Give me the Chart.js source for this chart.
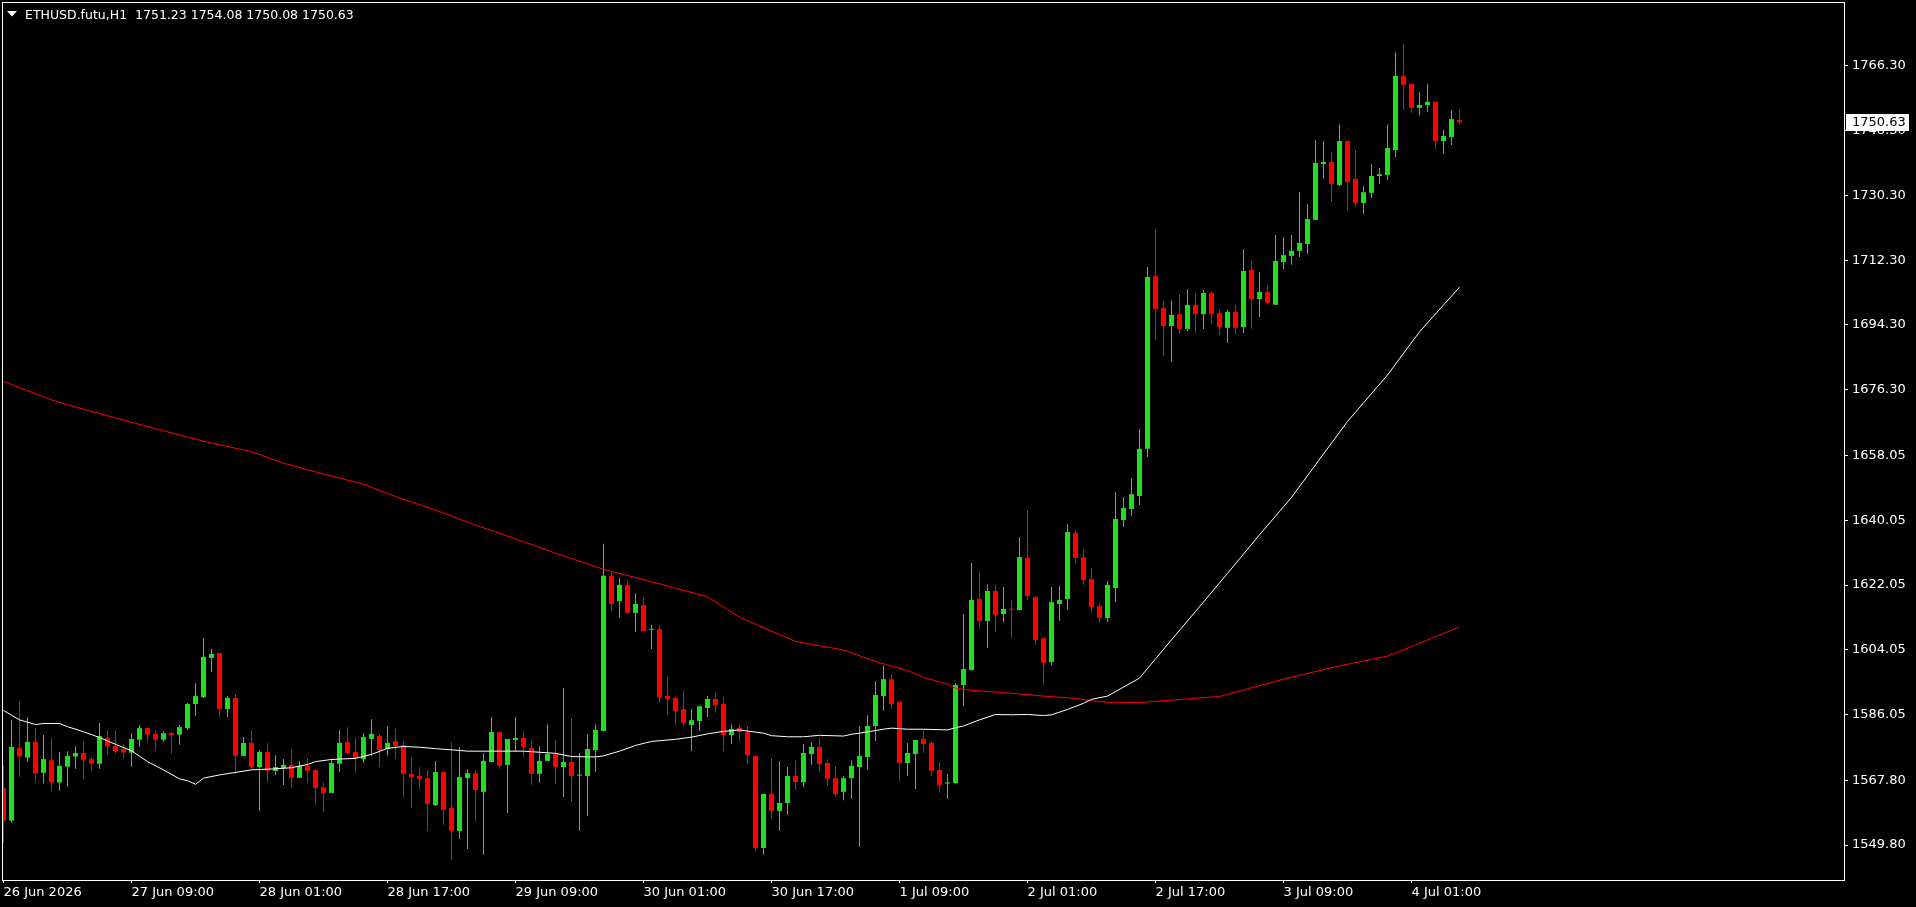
<!DOCTYPE html>
<html><head><meta charset="utf-8">
<style>html,body{margin:0;padding:0;background:#000;overflow:hidden}</style>
<script src="https://cdn.jsdelivr.net/npm/chart.js@4.4.1/dist/chart.umd.min.js"></script>
</head><body>
<canvas id="c" width="1916" height="907"></canvas>
<script>
const symbolTitle = "ETHUSD.futu,H1";
const opens = [1565.6,1556.6,1576.8,1574.1,1578.5,1569.9,1573.4,1567.2,1571.6,1574.4,
1575.4,1573.7,1572.4,1579.6,1577.3,1576.5,1575.5,1579.1,1582.3,1580.7,
1579.1,1580.9,1580.5,1582.3,1589.0,1590.9,1601.8,1603.2,1587.6,1590.7,
1574.6,1578.2,1571.5,1575.7,1570.4,1571.2,1572.1,1568.5,1571.8,1570.7,
1565.9,1564.3,1572.4,1578.5,1575.7,1573.7,1579.3,1580.1,1576.5,1578.7,
1577.6,1569.6,1569.0,1568.4,1560.9,1570.1,1560.1,1553.7,1568.4,1569.8,
1564.6,1572.9,1581.2,1572.1,1579.0,1579.6,1576.8,1569.6,1573.2,1575.1,
1571.5,1572.9,1569.1,1569.0,1576.2,1581.5,1624.6,1617.6,1622.1,1614.3,
1616.5,1609.6,1609.8,1591.2,1590.7,1587.6,1583.2,1584.3,1587.9,1590.4,
1589.0,1580.4,1582.4,1581.2,1574.6,1549.0,1564.0,1559.3,1561.5,1569.0,
1567.3,1575.1,1577.1,1572.6,1568.4,1564.6,1568.4,1571.5,1574.3,1582.9,
1591.2,1595.9,1589.6,1572.6,1575.1,1579.3,1578.2,1570.7,1566.9,1567.0,
1594.3,1598.4,1618.2,1612.1,1620.4,1614.0,1615.4,1615.1,1629.6,1618.7,
1607.3,1600.7,1616.8,1618.2,1636.5,1629.8,1623.7,1616.2,1612.9,1621.2,
1640.1,1643.2,1646.8,1659.9,1707.9,1699.0,1694.0,1697.3,1693.2,1699.9,
1697.3,1703.2,1697.6,1693.5,1697.9,1693.7,1709.6,1701.5,1703.5,1699.9,
1711.8,1713.5,1714.9,1716.8,1723.5,1739.0,1739.6,1733.2,1745.4,1734.9,
1728.2,1731.0,1735.7,1736.0,1742.9,1763.5,1761.3,1754.6,1755.4,1756.3,
1745.4,1746.5,1751.23];
const highs = [1572.0,1584.6,1589.8,1585.3,1582.4,1580.4,1579.6,1575.7,1575.9,1577.3,
1578.7,1574.4,1583.7,1581.8,1581.8,1577.9,1580.9,1583.2,1582.6,1581.8,
1581.5,1581.5,1583.2,1589.3,1594.8,1607.3,1604.3,1603.2,1591.2,1591.8,
1579.8,1581.8,1576.2,1578.2,1574.8,1573.7,1576.5,1573.2,1574.0,1570.7,
1567.3,1573.7,1581.8,1582.6,1579.6,1580.9,1584.8,1580.7,1582.9,1582.1,
1578.7,1574.3,1571.5,1570.7,1573.2,1570.4,1578.4,1577.1,1570.9,1570.7,
1575.4,1585.4,1581.2,1579.3,1585.4,1581.5,1579.3,1577.3,1583.4,1579.0,
1593.4,1585.1,1575.4,1580.7,1583.4,1633.5,1625.7,1624.0,1623.2,1619.8,
1618.7,1611.0,1611.0,1596.8,1590.7,1592.6,1587.6,1588.4,1591.2,1592.3,
1590.9,1583.4,1583.4,1582.9,1574.6,1564.0,1574.0,1573.2,1571.5,1573.4,
1577.9,1578.4,1579.6,1573.7,1571.8,1569.0,1573.4,1582.9,1585.9,1595.4,
1599.8,1597.3,1589.8,1578.2,1579.0,1581.8,1578.7,1572.9,1569.6,1594.8,
1614.0,1628.2,1625.9,1622.3,1622.1,1621.5,1617.9,1635.4,1642.9,1619.0,
1607.3,1621.5,1621.8,1639.0,1637.3,1632.1,1626.8,1617.1,1623.2,1647.9,
1646.5,1651.8,1665.4,1710.4,1720.9,1701.0,1701.2,1702.9,1704.3,1703.2,
1704.0,1703.7,1698.5,1698.5,1699.9,1715.4,1712.4,1709.0,1705.4,1719.3,
1718.7,1719.3,1731.2,1727.9,1745.7,1745.4,1742.4,1750.1,1745.4,1742.9,
1732.9,1739.0,1737.9,1749.9,1770.1,1772.4,1761.3,1759.0,1761.3,1756.3,
1748.5,1754.0,1754.08];
const lows = [1550.3,1556.0,1568.8,1572.9,1567.2,1566.9,1564.7,1564.9,1566.0,1571.0,
1568.0,1570.5,1571.0,1574.9,1575.2,1573.8,1571.6,1577.1,1578.3,1576.0,
1578.5,1575.2,1577.7,1581.8,1585.7,1590.7,1597.9,1585.4,1585.4,1569.6,
1574.6,1570.7,1559.3,1567.3,1569.3,1566.5,1565.7,1568.5,1567.1,1560.9,
1559.0,1564.3,1570.1,1575.1,1569.8,1572.6,1574.6,1571.5,1574.6,1573.7,
1563.2,1560.1,1565.4,1553.7,1560.7,1555.4,1545.7,1551.5,1548.7,1556.5,
1547.1,1572.9,1571.0,1558.7,1575.9,1574.3,1566.5,1567.1,1573.2,1566.8,
1563.2,1561.8,1553.7,1557.9,1570.1,1581.5,1614.8,1612.9,1614.0,1609.0,
1609.3,1604.3,1589.3,1585.9,1583.2,1582.9,1575.9,1581.5,1585.4,1586.5,
1575.9,1577.9,1578.7,1572.3,1548.4,1547.1,1557.1,1553.7,1558.2,1565.1,
1565.9,1572.1,1570.1,1566.2,1563.2,1562.3,1562.6,1549.3,1570.7,1578.7,
1587.1,1587.6,1567.6,1569.0,1565.4,1575.4,1569.0,1564.3,1562.6,1567.0,
1588.4,1598.4,1609.8,1604.6,1609.0,1611.8,1607.3,1615.1,1617.9,1605.4,
1594.3,1599.8,1612.1,1615.1,1627.9,1622.1,1614.3,1611.8,1611.8,1617.3,
1638.2,1641.2,1644.3,1657.6,1690.1,1685.7,1684.0,1691.8,1692.6,1692.1,
1693.2,1694.6,1691.5,1689.3,1691.8,1692.1,1693.2,1696.5,1699.9,1699.9,
1709.8,1711.0,1713.2,1714.0,1723.5,1734.9,1728.5,1732.9,1726.2,1727.1,
1725.1,1729.6,1733.5,1734.6,1741.0,1754.0,1753.2,1752.4,1753.5,1743.2,
1741.8,1744.3,1750.08];
const closes = [1556.6,1577.1,1574.4,1578.5,1569.7,1573.7,1567.2,1571.8,1574.6,1575.4,
1573.5,1572.4,1580.1,1577.2,1575.8,1575.5,1579.3,1582.3,1580.5,1579.1,
1580.9,1580.4,1582.6,1589.0,1591.2,1602.1,1602.9,1587.6,1590.7,1574.6,
1578.2,1571.5,1575.7,1570.4,1571.5,1572.1,1568.5,1571.8,1570.4,1565.7,
1564.3,1572.6,1578.2,1575.4,1574.0,1579.8,1580.7,1576.2,1578.2,1577.3,
1569.6,1568.7,1568.2,1561.2,1570.1,1559.6,1553.7,1568.7,1569.8,1565.1,
1573.2,1581.2,1571.8,1579.3,1579.6,1577.1,1569.6,1573.2,1575.1,1571.5,
1572.9,1569.0,1569.3,1576.5,1581.8,1624.6,1616.8,1622.1,1614.3,1616.8,
1609.3,1609.8,1590.9,1590.4,1587.0,1583.7,1584.5,1588.4,1590.4,1588.7,
1580.4,1582.1,1581.2,1574.8,1549.0,1564.0,1559.3,1561.5,1569.0,1567.3,
1575.4,1577.1,1572.3,1568.2,1564.0,1568.4,1571.8,1574.6,1582.9,1591.5,
1595.9,1589.0,1572.6,1575.4,1579.0,1577.9,1570.4,1566.5,1567.2,1594.3,
1598.7,1617.9,1612.1,1620.4,1613.7,1615.4,1615.2,1629.8,1619.0,1606.8,
1600.4,1617.3,1617.9,1636.8,1629.6,1623.4,1615.9,1612.9,1622.1,1640.4,
1643.5,1647.3,1659.9,1707.6,1698.7,1694.0,1697.1,1693.2,1699.9,1697.3,
1703.2,1697.3,1693.7,1697.9,1693.5,1709.3,1701.5,1703.5,1700.4,1712.1,
1713.7,1714.9,1717.1,1723.7,1739.3,1739.6,1733.5,1745.4,1734.0,1728.2,
1731.2,1735.7,1736.2,1743.5,1763.5,1761.0,1754.6,1755.4,1756.3,1745.4,
1746.8,1751.5,1750.63];

const whiteMaIdx = [0,2,4,5,7,8,10,12,14,16,18,20,22,23,24,25,27,29,31,34,36,38,39,41,44,46,48,50,52,54,57,58,65,67,69,71,74,75,77,79,81,84,86,88,90,92,95,96,98,100,102,105,106,107,110,111,113,115,118,119,120,122,124,126,128,130,131,133,135,136,138,142,145,149,153,157,161,168,173,177,182];
const whiteMaVal = [1587.2,1584.6,1583.3,1583.6,1583.6,1582.7,1581.3,1579.7,1577.8,1576.0,1573.0,1570.7,1568.2,1567.7,1566.7,1568.4,1569.3,1570.0,1570.7,1571.0,1571.3,1572.2,1573.0,1573.6,1573.9,1575.0,1576.7,1577.2,1577.0,1576.6,1576.1,1575.9,1575.9,1575.6,1575.3,1574.4,1574.3,1574.6,1575.9,1577.5,1578.6,1579.2,1579.8,1580.7,1581.4,1581.8,1580.9,1580.2,1579.9,1579.9,1580.3,1580.1,1580.6,1580.9,1582.0,1582.3,1582.0,1582.0,1581.8,1582.4,1582.9,1584.6,1586.1,1586.0,1586.1,1585.8,1586.0,1587.5,1589.2,1590.3,1591.2,1596.2,1604.2,1614.7,1625.3,1636.0,1646.4,1667.5,1680.4,1692.4,1704.8];
const redMaIdx = [0,6,8,14,19,25,31,35,40,45,49,54,59,64,69,75,81,88,92,99,105,109,113,115,118,119,121,126,130,134,136,138,142,152,160,167,173,178,182];
const redMaVal = [1678.6,1673.5,1672.1,1668.5,1665.5,1662.0,1659.1,1655.9,1652.9,1650.1,1646.6,1642.9,1638.7,1634.9,1630.9,1626.4,1623.0,1618.8,1613.1,1606.4,1604.0,1600.8,1598.3,1596.4,1594.5,1593.4,1592.8,1592.0,1591.2,1590.6,1589.9,1589.5,1589.4,1591.1,1595.9,1599.6,1602.3,1606.8,1610.4];

const yTickVals = [1766.30,1748.30,1730.30,1712.30,1694.30,1676.30,1658.05,1640.05,1622.05,1604.05,1586.05,1567.80,1549.80];
const xTickIdx = [0,16,32,48,64,80,96,112,128,144,160,176];
const xTickLabels = ["26 Jun 2026","27 Jun 09:00","28 Jun 01:00","28 Jun 17:00","29 Jun 09:00","30 Jun 01:00","30 Jun 17:00","1 Jul 09:00","2 Jul 01:00","2 Jul 17:00","3 Jul 09:00","4 Jul 01:00"];

const GREEN = '#22dd22', RED = '#ff0000';
const FONT = {family: 'DejaVu Sans', size: 13};
const N = opens.length;
const candleColors = opens.map((o, i) => closes[i] >= o ? GREEN : RED);
const bodyData = opens.map((o, i) => ({x: i, y: [o, closes[i]]}));
const wickData = opens.map((o, i) => ({x: i, y: [lows[i], highs[i]]}));
const whiteData = whiteMaIdx.map((x, k) => ({x, y: whiteMaVal[k]}));
const redData = redMaIdx.map((x, k) => ({x, y: redMaVal[k]}));

function noPad(s) { s.paddingLeft = 0; s.paddingRight = 0; s.paddingTop = 0; s.paddingBottom = 0; }

const decor = {
  id: 'decor',
  afterDraw(chart) {
    const ctx = chart.ctx;
    const ca = chart.chartArea;
    ctx.save();
    ctx.strokeStyle = '#ffffff';
    ctx.lineWidth = 1;
    ctx.strokeRect(ca.left - 0.5, ca.top - 0.5, ca.right - ca.left + 1, ca.bottom - ca.top + 1);
    ctx.fillStyle = '#ffffff';
    ctx.beginPath();
    ctx.moveTo(7, 11); ctx.lineTo(17, 11); ctx.lineTo(12, 16.5); ctx.closePath(); ctx.fill();
    ctx.font = '12.5px "DejaVu Sans"';
    ctx.textBaseline = 'alphabetic';
    ctx.textAlign = 'left';
    const last = N - 1;
    const txt = symbolTitle + '  ' + opens[last].toFixed(2) + ' ' + highs[last].toFixed(2) + ' ' + lows[last].toFixed(2) + ' ' + closes[last].toFixed(2);
    ctx.fillText(txt, 25, 19);
    const y = chart.scales.y.getPixelForValue(closes[last]);
    ctx.fillStyle = '#ffffff';
    ctx.fillRect(ca.right + 2, Math.round(y) - 8, 63, 17);
    ctx.fillStyle = '#000000';
    ctx.font = '13px "DejaVu Sans"';
    ctx.textBaseline = 'middle';
    ctx.fillText(closes[last].toFixed(2), ca.right + 8, Math.round(y) + 0.5);
    ctx.restore();
  }
};

new Chart(document.getElementById('c'), {
  type: 'bar',
  data: {
    datasets: [
      {type: 'line', data: whiteData, borderColor: '#ffffff', borderWidth: 1, pointRadius: 0, tension: 0, order: 0},
      {type: 'line', data: redData, borderColor: '#ff0000', borderWidth: 1, pointRadius: 0, tension: 0, order: 1},
      {data: bodyData, backgroundColor: candleColors, barThickness: 5, grouped: false, borderWidth: 0, inflateAmount: 0, minBarLength: 1, order: 2},
      {data: wickData, backgroundColor: candleColors, barThickness: 1, grouped: false, borderWidth: 0, inflateAmount: 0, order: 3}
    ]
  },
  options: {
    responsive: false,
    animation: false,
    devicePixelRatio: 1,
    layout: {padding: {left: 3, top: 3, right: 0, bottom: 0}},
    plugins: {legend: {display: false}, tooltip: {enabled: false}},
    scales: {
      x: {
        type: 'linear', min: -0.0625, max: 230.0625, offset: false,
        grid: {display: true, offset: false, drawOnChartArea: false, drawTicks: true, tickLength: 3, color: '#ffffff', lineWidth: 1},
        border: {display: false},
        ticks: {autoSkip: false, maxRotation: 0, minRotation: 0, align: 'start', padding: 2, color: '#ffffff', font: FONT,
          callback: (v) => { const k = xTickIdx.indexOf(v); return k >= 0 ? xTickLabels[k] : ''; }},
        afterBuildTicks: (s) => { s.ticks = xTickIdx.map(v => ({value: v})); },
        afterFit: (s) => { s.height = 27; noPad(s); }
      },
      y: {
        type: 'linear', position: 'right', min: 1540.11, max: 1783.75,
        grid: {display: true, drawOnChartArea: false, drawTicks: true, tickLength: 4, color: '#ffffff', lineWidth: 1},
        border: {display: false},
        ticks: {padding: 4, color: '#ffffff', font: FONT, callback: (v) => Number(v).toFixed(2)},
        afterBuildTicks: (s) => { s.ticks = yTickVals.map(v => ({value: v})); },
        afterFit: (s) => { s.width = 72; noPad(s); }
      }
    }
  },
  plugins: [decor]
});
</script>
</body></html>
